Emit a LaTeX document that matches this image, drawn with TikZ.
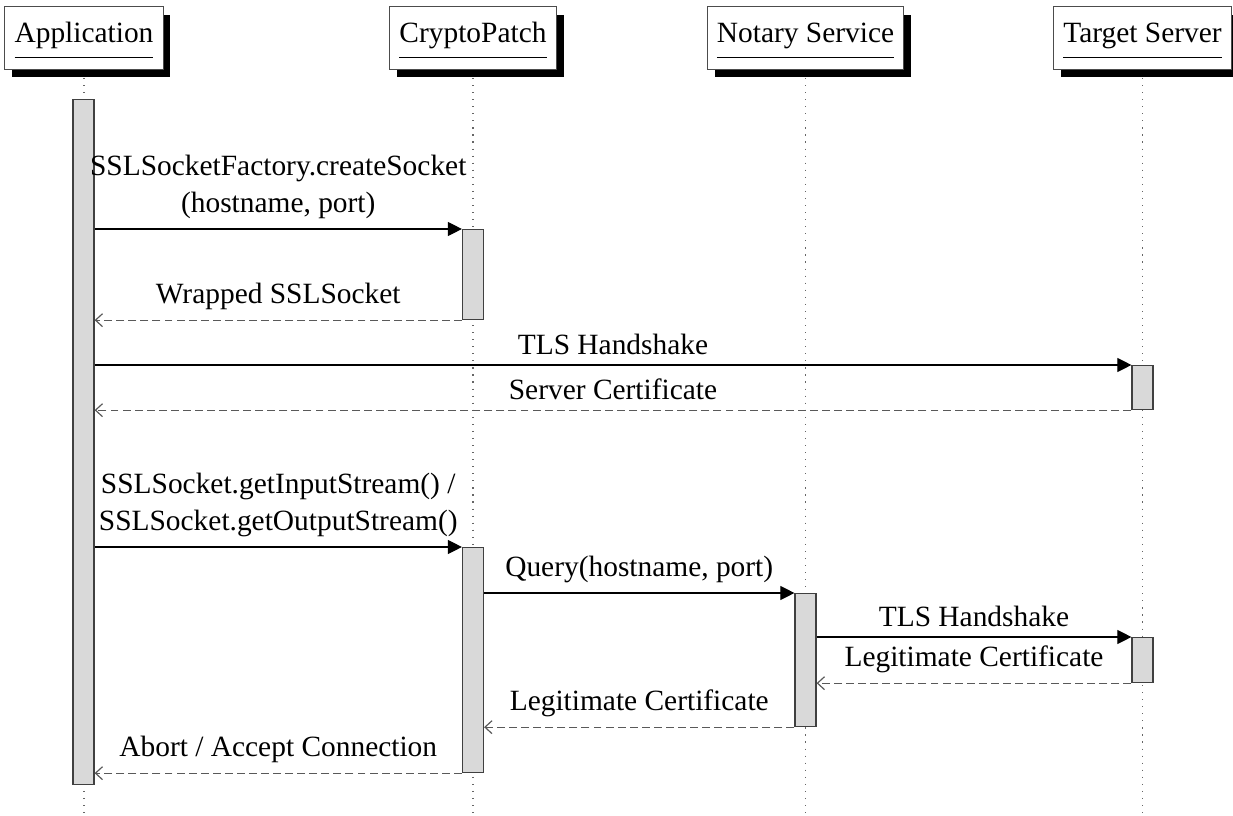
\documentclass[tikz,border=0pt]{standalone}
\usepackage{fontspec}
\setmainfont{Liberation Serif}
\usetikzlibrary{arrows.meta,shadows}
\newdimen\pxu
\pxu=0.34pt

\begin{document}
\begin{tikzpicture}[x=0.34pt,y=-0.34pt,font=\fontsize{10}{12.5}\selectfont,
  head/.style={draw=black!70,fill=white,inner xsep=3.3pt,minimum height=20.4pt,
    drop shadow={shadow xshift=2.5pt,shadow yshift=-2.6pt,fill=black,opacity=1}},
  lifeline/.style={draw=black!60,dotted,shorten <=2.8pt},
  bar/.style={draw=black!75,fill=black!15,minimum width=7.14pt,inner sep=0pt,anchor=north},
  call/.style={-{Triangle[length=4.8pt,width=4.8pt]}},
  reply/.style={draw=black!65,dash pattern=on 2.7pt off 1.4pt,
    -{Straight Barb[length=2.4pt,width=4.4pt]}}]
  \useasboundingbox (0,0) rectangle (1233,816);

  \node[head] (app)    at (84,38)     {\underline{\strut Application}};
  \node[head] (crypto) at (473,38)    {\underline{\strut CryptoPatch}};
  \node[head] (notary) at (805.5,38)  {\underline{\strut Notary Service}};
  \node[head] (target) at (1142.5,38) {\underline{\strut Target Server}};
  \coordinate (bottom) at (0,816);

  \draw[lifeline] (app.south)    -- (app.south |- bottom);
  \draw[lifeline] (crypto.south) -- (crypto.south |- bottom);
  \draw[lifeline] (notary.south) -- (notary.south |- bottom);
  \draw[lifeline] (target.south) -- (target.south |- bottom);

  \node[bar,minimum height=685\pxu] (appbar)     at (83.5,99)    {};
  \node[bar,minimum height=90\pxu]  (cryptobar1) at (473,229)    {};
  \node[bar,minimum height=44\pxu]  (targetbar1) at (1142.5,365) {};
  \node[bar,minimum height=225\pxu] (cryptobar2) at (473,547)    {};
  \node[bar,minimum height=133\pxu] (notarybar)  at (805.5,593)  {};
  \node[bar,minimum height=45\pxu]  (targetbar2) at (1142.5,637) {};

  \draw[call] (appbar.east |- cryptobar1.north) -- (cryptobar1.north west)
    node[midway,above,align=center] {SSLSocketFactory.createSocket\\(hostname, port)};
  \draw[reply] (cryptobar1.south west) -- (appbar.east |- cryptobar1.south)
    node[midway,above] {Wrapped SSLSocket};

  \draw[call] (appbar.east |- targetbar1.north) -- (targetbar1.north west)
    node[midway,above] {TLS Handshake};
  \draw[reply] (targetbar1.south west) -- (appbar.east |- targetbar1.south)
    node[midway,above] {Server Certificate};

  \draw[call] (appbar.east |- cryptobar2.north) -- (cryptobar2.north west)
    node[midway,above,align=center] {SSLSocket.getInputStream() /\\SSLSocket.getOutputStream()};
  \draw[call] (cryptobar2.east |- notarybar.north) -- (notarybar.north west)
    node[midway,above] {Query(hostname, port)};
  \draw[call] (notarybar.east |- targetbar2.north) -- (targetbar2.north west)
    node[midway,above] {TLS Handshake};
  \draw[reply] (targetbar2.south west) -- (notarybar.east |- targetbar2.south)
    node[midway,above] {Legitimate Certificate};
  \draw[reply] (notarybar.south west) -- (cryptobar2.east |- notarybar.south)
    node[midway,above] {Legitimate Certificate};
  \draw[reply] (cryptobar2.south west) -- (appbar.east |- cryptobar2.south)
    node[midway,above] {Abort / Accept Connection};
\end{tikzpicture}
\end{document}
